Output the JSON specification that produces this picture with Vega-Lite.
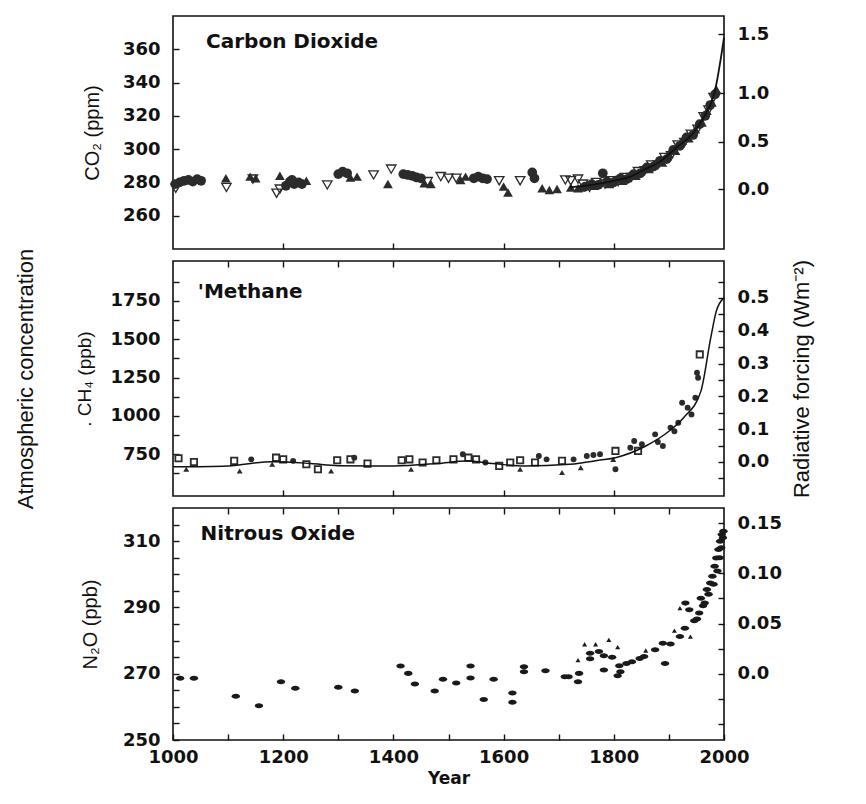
{
  "$schema": "https://vega.github.io/schema/vega-lite/v6.json",
  "background": "white",
  "padding": {"left": 13, "top": 15, "right": 10, "bottom": 10},
  "bounds": "flush",
  "spacing": 12,
  "config": {
    "view": {"stroke": "#111", "strokeWidth": 1.6},
    "axis": {
      "domain": false, "grid": false, "tickColor": "#111", "tickWidth": 1.4, "tickSize": -6,
      "labelFont": "DejaVu Sans", "labelFontWeight": "bold", "labelFontSize": 18, "labelColor": "#111",
      "labelFlush": false, "labelOverlap": false, "labelBound": false, "labelPadding": 19,
      "titleFont": "Liberation Sans", "titleFontWeight": "normal", "titleFontSize": 20, "titleColor": "#111"
    }
  },
  "datasets": {
    "co2": [
      {"year": 1004, "value": 279, "kind": "circle"}, {"year": 1012, "value": 280, "kind": "circle"}, {"year": 1020, "value": 281, "kind": "circle"}, {"year": 1028, "value": 281.5, "kind": "circle"}, {"year": 1036, "value": 280.5, "kind": "circle"}, {"year": 1044, "value": 282, "kind": "circle"}, {"year": 1051, "value": 281, "kind": "circle"},
      {"year": 1005, "value": 276.5, "kind": "open"},
      {"year": 1096, "value": 282.5, "kind": "tri"}, {"year": 1097, "value": 277, "kind": "open"},
      {"year": 1140, "value": 283.5, "kind": "tri"}, {"year": 1150, "value": 282.5, "kind": "tri"}, {"year": 1145, "value": 282, "kind": "open"},
      {"year": 1194, "value": 284, "kind": "tri"}, {"year": 1188, "value": 273.5, "kind": "open"}, {"year": 1194, "value": 276, "kind": "open"},
      {"year": 1205, "value": 278, "kind": "circle"}, {"year": 1212, "value": 280.5, "kind": "circle"}, {"year": 1220, "value": 279, "kind": "circle"}, {"year": 1228, "value": 280, "kind": "circle"}, {"year": 1216, "value": 281.5, "kind": "circle"}, {"year": 1234, "value": 279, "kind": "circle"},
      {"year": 1242, "value": 281, "kind": "tri"}, {"year": 1280, "value": 278.5, "kind": "open"},
      {"year": 1300, "value": 285, "kind": "circle"}, {"year": 1308, "value": 286.5, "kind": "circle"}, {"year": 1316, "value": 285.5, "kind": "circle"},
      {"year": 1322, "value": 283, "kind": "tri"}, {"year": 1334, "value": 283.5, "kind": "tri"},
      {"year": 1364, "value": 284.5, "kind": "open"}, {"year": 1396, "value": 288, "kind": "open"}, {"year": 1390, "value": 279, "kind": "tri"},
      {"year": 1418, "value": 285, "kind": "circle"}, {"year": 1426, "value": 284.5, "kind": "circle"}, {"year": 1434, "value": 284, "kind": "circle"}, {"year": 1442, "value": 283, "kind": "circle"}, {"year": 1450, "value": 282.5, "kind": "circle"},
      {"year": 1456, "value": 279.5, "kind": "tri"}, {"year": 1468, "value": 279, "kind": "tri"}, {"year": 1462, "value": 280.5, "kind": "open"},
      {"year": 1486, "value": 283.5, "kind": "open"}, {"year": 1500, "value": 282.5, "kind": "open"}, {"year": 1514, "value": 282.5, "kind": "open"},
      {"year": 1522, "value": 281.5, "kind": "tri"}, {"year": 1531, "value": 283.5, "kind": "tri"},
      {"year": 1546, "value": 282.5, "kind": "circle"}, {"year": 1554, "value": 283.5, "kind": "circle"}, {"year": 1562, "value": 282.5, "kind": "circle"}, {"year": 1570, "value": 282, "kind": "circle"},
      {"year": 1592, "value": 281, "kind": "open"}, {"year": 1600, "value": 277.5, "kind": "tri"}, {"year": 1608, "value": 274, "kind": "tri"},
      {"year": 1630, "value": 281, "kind": "open"}, {"year": 1652, "value": 286, "kind": "circle"}, {"year": 1656, "value": 282.5, "kind": "circle"},
      {"year": 1670, "value": 276.5, "kind": "tri"}, {"year": 1683, "value": 275.5, "kind": "tri"}, {"year": 1697, "value": 276, "kind": "tri"},
      {"year": 1712, "value": 281.5, "kind": "open"}, {"year": 1722, "value": 281, "kind": "open"}, {"year": 1735, "value": 282, "kind": "open"},
      {"year": 1722, "value": 277, "kind": "tri"}, {"year": 1735, "value": 276.5, "kind": "tri"},
      {"year": 1740, "value": 277, "kind": "tri"}, {"year": 1744, "value": 279, "kind": "open"}, {"year": 1748, "value": 277.5, "kind": "circle"}, {"year": 1752, "value": 278.5, "kind": "tri"}, {"year": 1756, "value": 277, "kind": "open"}, {"year": 1760, "value": 279, "kind": "circle"}, {"year": 1764, "value": 278, "kind": "tri"}, {"year": 1768, "value": 280, "kind": "open"}, {"year": 1772, "value": 278.5, "kind": "circle"}, {"year": 1776, "value": 280, "kind": "tri"},
      {"year": 1780, "value": 285.5, "kind": "circle"}, {"year": 1784, "value": 279, "kind": "open"}, {"year": 1788, "value": 280.5, "kind": "circle"}, {"year": 1792, "value": 279, "kind": "tri"}, {"year": 1796, "value": 281, "kind": "open"}, {"year": 1800, "value": 280, "kind": "circle"}, {"year": 1804, "value": 282, "kind": "tri"}, {"year": 1808, "value": 280.5, "kind": "open"}, {"year": 1812, "value": 282.5, "kind": "circle"}, {"year": 1816, "value": 281, "kind": "tri"},
      {"year": 1820, "value": 283, "kind": "open"}, {"year": 1824, "value": 282, "kind": "circle"}, {"year": 1828, "value": 284, "kind": "tri"}, {"year": 1832, "value": 283, "kind": "open"}, {"year": 1836, "value": 285, "kind": "circle"}, {"year": 1840, "value": 284, "kind": "tri"}, {"year": 1844, "value": 286.5, "kind": "open"}, {"year": 1848, "value": 285.5, "kind": "circle"}, {"year": 1852, "value": 288, "kind": "tri"}, {"year": 1856, "value": 287, "kind": "open"},
      {"year": 1860, "value": 289, "kind": "circle"}, {"year": 1864, "value": 288, "kind": "tri"}, {"year": 1868, "value": 290.5, "kind": "open"}, {"year": 1872, "value": 289.5, "kind": "circle"}, {"year": 1876, "value": 291.5, "kind": "tri"}, {"year": 1880, "value": 290.5, "kind": "open"}, {"year": 1884, "value": 293, "kind": "circle"}, {"year": 1888, "value": 292, "kind": "tri"}, {"year": 1892, "value": 295, "kind": "open"}, {"year": 1896, "value": 294, "kind": "circle"},
      {"year": 1900, "value": 297, "kind": "tri"}, {"year": 1904, "value": 296, "kind": "open"}, {"year": 1908, "value": 299.5, "kind": "circle"}, {"year": 1912, "value": 299, "kind": "tri"}, {"year": 1916, "value": 302.5, "kind": "open"}, {"year": 1920, "value": 302, "kind": "circle"}, {"year": 1924, "value": 305, "kind": "tri"}, {"year": 1928, "value": 304, "kind": "open"}, {"year": 1932, "value": 307, "kind": "circle"}, {"year": 1936, "value": 306.5, "kind": "tri"},
      {"year": 1940, "value": 309, "kind": "open"}, {"year": 1944, "value": 308.5, "kind": "circle"}, {"year": 1948, "value": 312, "kind": "tri"}, {"year": 1952, "value": 312, "kind": "open"}, {"year": 1956, "value": 315, "kind": "circle"}, {"year": 1960, "value": 316, "kind": "tri"}, {"year": 1963, "value": 319.5, "kind": "open"}, {"year": 1966, "value": 320, "kind": "circle"}, {"year": 1969, "value": 323, "kind": "tri"}, {"year": 1972, "value": 323.5, "kind": "open"},
      {"year": 1975, "value": 326.5, "kind": "circle"}, {"year": 1978, "value": 328, "kind": "tri"}, {"year": 1981, "value": 331, "kind": "open"}, {"year": 1984, "value": 333, "kind": "circle"}, {"year": 1986, "value": 336, "kind": "tri"}
    ],
    "co2fit": [
      {"year": 1720, "value": 277}, {"year": 1760, "value": 278.5}, {"year": 1800, "value": 281}, {"year": 1830, "value": 283.5}, {"year": 1854, "value": 287.5}, {"year": 1884, "value": 292.5}, {"year": 1914, "value": 301}, {"year": 1945, "value": 310}, {"year": 1963, "value": 319}, {"year": 1975, "value": 326.5}, {"year": 1982, "value": 333}, {"year": 2000, "value": 367}
    ],
    "ch4": [
      {"year": 1010, "value": 724, "kind": "sq"}, {"year": 1024, "value": 652, "kind": "tri"}, {"year": 1038, "value": 700, "kind": "sq"},
      {"year": 1111, "value": 707, "kind": "sq"}, {"year": 1121, "value": 641, "kind": "tri"}, {"year": 1142, "value": 717, "kind": "circle"},
      {"year": 1180, "value": 685, "kind": "tri"}, {"year": 1187, "value": 728, "kind": "sq"}, {"year": 1200, "value": 717, "kind": "sq"}, {"year": 1218, "value": 707, "kind": "circle"},
      {"year": 1242, "value": 685, "kind": "sq"}, {"year": 1263, "value": 652, "kind": "sq"}, {"year": 1287, "value": 641, "kind": "tri"}, {"year": 1298, "value": 711, "kind": "sq"},
      {"year": 1322, "value": 717, "kind": "sq"}, {"year": 1329, "value": 728, "kind": "circle"}, {"year": 1353, "value": 689, "kind": "sq"},
      {"year": 1415, "value": 711, "kind": "sq"}, {"year": 1432, "value": 652, "kind": "tri"}, {"year": 1429, "value": 717, "kind": "sq"}, {"year": 1453, "value": 696, "kind": "sq"}, {"year": 1478, "value": 711, "kind": "sq"},
      {"year": 1509, "value": 717, "kind": "sq"}, {"year": 1526, "value": 750, "kind": "circle"}, {"year": 1536, "value": 728, "kind": "sq"}, {"year": 1550, "value": 717, "kind": "sq"}, {"year": 1567, "value": 696, "kind": "circle"},
      {"year": 1592, "value": 674, "kind": "sq"}, {"year": 1612, "value": 696, "kind": "sq"}, {"year": 1630, "value": 711, "kind": "sq"}, {"year": 1630, "value": 652, "kind": "tri"},
      {"year": 1657, "value": 696, "kind": "sq"}, {"year": 1664, "value": 739, "kind": "circle"}, {"year": 1678, "value": 717, "kind": "circle"},
      {"year": 1706, "value": 707, "kind": "sq"}, {"year": 1706, "value": 631, "kind": "tri"}, {"year": 1727, "value": 717, "kind": "circle"}, {"year": 1740, "value": 663, "kind": "tri"}, {"year": 1751, "value": 739, "kind": "circle"}, {"year": 1763, "value": 745, "kind": "circle"}, {"year": 1775, "value": 750, "kind": "circle"},
      {"year": 1803, "value": 772, "kind": "sq"}, {"year": 1799, "value": 717, "kind": "tri"}, {"year": 1803, "value": 652, "kind": "circle"},
      {"year": 1830, "value": 793, "kind": "circle"}, {"year": 1837, "value": 837, "kind": "circle"}, {"year": 1844, "value": 772, "kind": "sq"}, {"year": 1851, "value": 815, "kind": "cross"},
      {"year": 1875, "value": 880, "kind": "circle"}, {"year": 1889, "value": 804, "kind": "circle"}, {"year": 1880, "value": 830, "kind": "cross"},
      {"year": 1903, "value": 924, "kind": "circle"}, {"year": 1917, "value": 956, "kind": "circle"}, {"year": 1910, "value": 900, "kind": "cross"},
      {"year": 1924, "value": 1086, "kind": "circle"}, {"year": 1934, "value": 1054, "kind": "circle"}, {"year": 1941, "value": 1010, "kind": "circle"}, {"year": 1948, "value": 1119, "kind": "circle"},
      {"year": 1951, "value": 1282, "kind": "circle"}, {"year": 1953, "value": 1249, "kind": "circle"}, {"year": 1956, "value": 1401, "kind": "sq"}
    ],
    "ch4fit": [
      {"year": 1000, "value": 668}, {"year": 1100, "value": 674}, {"year": 1180, "value": 702}, {"year": 1250, "value": 690}, {"year": 1300, "value": 676}, {"year": 1400, "value": 674}, {"year": 1480, "value": 690}, {"year": 1533, "value": 706}, {"year": 1580, "value": 690}, {"year": 1637, "value": 674}, {"year": 1720, "value": 685}, {"year": 1775, "value": 712}, {"year": 1803, "value": 728}, {"year": 1858, "value": 804}, {"year": 1900, "value": 900}, {"year": 1927, "value": 990}, {"year": 1958, "value": 1160}, {"year": 1976, "value": 1510}, {"year": 1986, "value": 1683}, {"year": 2000, "value": 1770}
    ],
    "n2o": [
      {"year": 1013, "value": 268.6, "kind": "e"}, {"year": 1038, "value": 268.6, "kind": "e"}, {"year": 1114, "value": 263.2, "kind": "e"}, {"year": 1156, "value": 260.3, "kind": "e"}, {"year": 1196, "value": 267.6, "kind": "e"}, {"year": 1222, "value": 265.6, "kind": "e"}, {"year": 1300, "value": 265.9, "kind": "e"}, {"year": 1330, "value": 264.8, "kind": "e"},
      {"year": 1413, "value": 272.3, "kind": "e"}, {"year": 1427, "value": 270.1, "kind": "e"}, {"year": 1439, "value": 266.9, "kind": "e"}, {"year": 1475, "value": 264.8, "kind": "e"}, {"year": 1490, "value": 268.3, "kind": "e"}, {"year": 1514, "value": 267.2, "kind": "e"}, {"year": 1540, "value": 272.3, "kind": "e"}, {"year": 1540, "value": 268.7, "kind": "e"},
      {"year": 1564, "value": 262.2, "kind": "e"}, {"year": 1582, "value": 268.3, "kind": "e"}, {"year": 1616, "value": 264.2, "kind": "e"}, {"year": 1616, "value": 261.4, "kind": "e"}, {"year": 1637, "value": 272.1, "kind": "e"}, {"year": 1637, "value": 270.6, "kind": "e"}, {"year": 1676, "value": 270.9, "kind": "e"}, {"year": 1711, "value": 269.1, "kind": "e"}, {"year": 1718, "value": 269.1, "kind": "e"},
      {"year": 1735, "value": 274.1, "kind": "tri"}, {"year": 1737, "value": 270.1, "kind": "e"}, {"year": 1735, "value": 267.6, "kind": "e"}, {"year": 1747, "value": 278.9, "kind": "tri"}, {"year": 1757, "value": 276.2, "kind": "e"}, {"year": 1757, "value": 274.5, "kind": "e"}, {"year": 1767, "value": 278.9, "kind": "tri"}, {"year": 1773, "value": 276.7, "kind": "e"}, {"year": 1782, "value": 271.1, "kind": "e"}, {"year": 1782, "value": 275.4, "kind": "e"},
      {"year": 1791, "value": 280.2, "kind": "tri"}, {"year": 1797, "value": 275.0, "kind": "e"}, {"year": 1807, "value": 278.0, "kind": "tri"}, {"year": 1807, "value": 269.4, "kind": "e"}, {"year": 1812, "value": 270.6, "kind": "e"}, {"year": 1810, "value": 272.4, "kind": "e"}, {"year": 1823, "value": 273.1, "kind": "e"}, {"year": 1833, "value": 273.6, "kind": "e"}, {"year": 1847, "value": 274.6, "kind": "e"},
      {"year": 1858, "value": 277.0, "kind": "tri"}, {"year": 1855, "value": 275.2, "kind": "e"}, {"year": 1875, "value": 277.2, "kind": "e"}, {"year": 1889, "value": 279.2, "kind": "e"}, {"year": 1893, "value": 273.1, "kind": "e"}, {"year": 1903, "value": 279.0, "kind": "e"}, {"year": 1910, "value": 283.0, "kind": "tri"}, {"year": 1920, "value": 281.2, "kind": "e"}, {"year": 1929, "value": 283.7, "kind": "e"},
      {"year": 1920, "value": 289.8, "kind": "tri"}, {"year": 1930, "value": 291.3, "kind": "e"}, {"year": 1937, "value": 289.3, "kind": "e"}, {"year": 1939, "value": 281.2, "kind": "tri"}, {"year": 1946, "value": 286, "kind": "e"}, {"year": 1951, "value": 286.5, "kind": "e"}, {"year": 1955, "value": 288.3, "kind": "e"}, {"year": 1958, "value": 292.8, "kind": "e"}, {"year": 1962, "value": 290.5, "kind": "e"},
      {"year": 1965, "value": 291.3, "kind": "e"}, {"year": 1969, "value": 295.4, "kind": "e"}, {"year": 1972, "value": 294, "kind": "e"}, {"year": 1975, "value": 297.4, "kind": "e"}, {"year": 1979, "value": 299.4, "kind": "e"}, {"year": 1981, "value": 297, "kind": "e"}, {"year": 1983, "value": 302.4, "kind": "e"}, {"year": 1986, "value": 304.9, "kind": "e"}, {"year": 1988, "value": 301, "kind": "e"},
      {"year": 1990, "value": 307.5, "kind": "e"}, {"year": 1992, "value": 305, "kind": "e"}, {"year": 1993, "value": 310.0, "kind": "e"}, {"year": 1995, "value": 308, "kind": "e"}, {"year": 1996, "value": 312.0, "kind": "e"}, {"year": 1998, "value": 311, "kind": "e"}, {"year": 1999, "value": 313, "kind": "e"}
    ]
  },
  "vconcat": [
    {
      "width": 551, "height": 233,
      "layer": [
        {
          "data": {"name": "co2"},
          "transform": [{"filter": "datum.kind != 'open'"}],
          "mark": {"type": "point", "filled": true, "opacity": 1, "color": "#2b2b2b", "size": 95},
          "encoding": {
            "x": {"field": "year", "type": "quantitative", "scale": {"domain": [1000, 2000], "nice": false, "zero": false}, "axis": {"orient": "bottom", "labels": false, "values": [1200, 1400, 1600, 1800], "title": null}},
            "y": {"field": "value", "type": "quantitative", "scale": {"domain": [240, 380], "nice": false, "zero": false}, "axis": {"orient": "left", "values": [260, 280, 300, 320, 340, 360], "title": "CO₂ (ppm)", "titlePadding": 20}},
            "shape": {"field": "kind", "type": "nominal", "scale": {"domain": ["circle", "tri"], "range": ["circle", "triangle-up"]}, "legend": null}
          }
        },
        {
          "data": {"name": "co2"},
          "transform": [{"filter": "datum.kind == 'open'"}],
          "mark": {"type": "point", "filled": false, "shape": "triangle-down", "opacity": 1, "color": "#2b2b2b", "size": 90, "strokeWidth": 1.3},
          "encoding": {
            "x": {"field": "year", "type": "quantitative", "scale": {"domain": [1000, 2000], "nice": false, "zero": false}, "axis": null},
            "y": {"field": "value", "type": "quantitative", "scale": {"domain": [240, 380], "nice": false, "zero": false}, "axis": null}
          }
        },
        {
          "data": {"name": "co2fit"},
          "mark": {"type": "line", "color": "#111", "strokeWidth": 1.8, "interpolate": "monotone"},
          "encoding": {
            "x": {"field": "year", "type": "quantitative", "scale": {"domain": [1000, 2000], "nice": false, "zero": false}, "axis": null},
            "y": {"field": "value", "type": "quantitative", "scale": {"domain": [240, 380], "nice": false, "zero": false}, "axis": {"orient": "right", "values": [276, 304.5, 333.5, 369], "labelExpr": "datum.value < 290 ? '0.0' : datum.value < 320 ? '0.5' : datum.value < 350 ? '1.0' : '1.5'", "title": null}}
          }
        },
        {
          "data": {"values": [{}]},
          "mark": {"type": "text", "text": "Carbon Dioxide", "align": "left", "baseline": "alphabetic", "font": "DejaVu Sans", "fontWeight": "bold", "fontSize": 20, "color": "#111"},
          "encoding": {
            "x": {"datum": 1060, "type": "quantitative", "scale": {"domain": [1000, 2000], "nice": false, "zero": false}, "axis": null},
            "y": {"datum": 361, "type": "quantitative", "scale": {"domain": [240, 380], "nice": false, "zero": false}, "axis": null}
          }
        }
      ],
      "resolve": {"axis": {"x": "independent", "y": "independent"}}
    },
    {
      "width": 551, "height": 235,
      "layer": [
        {
          "data": {"name": "ch4"},
          "transform": [{"filter": "datum.kind == 'sq'"}],
          "mark": {"type": "point", "filled": false, "shape": "square", "opacity": 1, "color": "#2b2b2b", "size": 40, "strokeWidth": 1.8},
          "encoding": {
            "x": {"field": "year", "type": "quantitative", "scale": {"domain": [1000, 2000], "nice": false, "zero": false}, "axis": {"orient": "top", "labels": false, "values": [1100, 1200, 1300, 1400, 1500, 1600, 1700, 1800, 1900], "title": null}},
            "y": {"field": "value", "type": "quantitative", "scale": {"domain": [478, 2010], "nice": false, "zero": false}, "axis": {"orient": "left", "values": [625, 750, 875, 1000, 1125, 1250, 1375, 1500, 1625, 1750, 1875], "format": "d", "labelExpr": "datum.value % 250 == 0 ? datum.label : ''", "title": ". CH₄ (ppb)", "titleFontSize": 19, "titlePadding": 15}}
          }
        },
        {
          "data": {"name": "ch4"},
          "transform": [{"filter": "datum.kind != 'sq'"}],
          "mark": {"type": "point", "filled": true, "opacity": 1, "color": "#2b2b2b", "size": 35},
          "encoding": {
            "x": {"field": "year", "type": "quantitative", "scale": {"domain": [1000, 2000], "nice": false, "zero": false}, "axis": {"orient": "bottom", "labels": false, "values": [1200, 1400, 1600, 1800], "title": null}},
            "y": {"field": "value", "type": "quantitative", "scale": {"domain": [478, 2010], "nice": false, "zero": false}, "axis": null},
            "shape": {"field": "kind", "type": "nominal", "scale": {"domain": ["circle", "tri", "cross"], "range": ["circle", "triangle-up", "cross"]}, "legend": null}
          }
        },
        {
          "data": {"name": "ch4fit"},
          "mark": {"type": "line", "color": "#111", "strokeWidth": 1.5, "interpolate": "monotone"},
          "encoding": {
            "x": {"field": "year", "type": "quantitative", "scale": {"domain": [1000, 2000], "nice": false, "zero": false}, "axis": null},
            "y": {"field": "value", "type": "quantitative", "scale": {"domain": [478, 2010], "nice": false, "zero": false}, "axis": {"orient": "right", "values": [593.1, 700, 806.9, 913.8, 1020.7, 1127.6, 1234.5, 1341.4, 1448.3, 1555.2, 1662.1, 1769, 1875.9], "labelExpr": "(round((datum.value - 700) / 106.9) % 2 == 0 && datum.value >= 699) ? format((datum.value - 700) / 2138, '.1f') : ''", "title": "Radiative forcing  (Wm⁻²)", "titleFontSize": 22, "titleAngle": 270, "titleBaseline": "top", "titlePadding": 23}}
          }
        },
        {
          "data": {"values": [{}]},
          "mark": {"type": "text", "text": "'Methane", "align": "left", "baseline": "alphabetic", "font": "DejaVu Sans", "fontWeight": "bold", "fontSize": 20, "color": "#111"},
          "encoding": {
            "x": {"datum": 1045, "type": "quantitative", "scale": {"domain": [1000, 2000], "nice": false, "zero": false}, "axis": null},
            "y": {"datum": 1769, "type": "quantitative", "scale": {"domain": [478, 2010], "nice": false, "zero": false}, "axis": {"orient": "left", "labels": false, "ticks": false, "title": "Atmospheric concentration", "titleFontSize": 22, "titlePadding": 136}}
          }
        }
      ],
      "resolve": {"axis": {"x": "independent", "y": "independent"}}
    },
    {
      "width": 551, "height": 232,
      "layer": [
        {
          "data": {"name": "n2o"},
          "transform": [{"filter": "datum.kind == 'e'"}],
          "mark": {"type": "point", "filled": true, "opacity": 1, "color": "#1a1a1a", "size": 70, "shape": "M-1,0A1,0.6,0,1,0,1,0A1,0.6,0,1,0,-1,0Z"},
          "encoding": {
            "x": {"field": "year", "type": "quantitative", "scale": {"domain": [1000, 2000], "nice": false, "zero": false}, "axis": {"orient": "bottom", "values": [1000, 1100, 1200, 1300, 1400, 1500, 1600, 1700, 1800, 1900, 2000], "format": "d", "labelExpr": "datum.value % 200 == 0 ? datum.label : ''", "labelPadding": 14, "title": "Year", "titleFont": "DejaVu Sans", "titleFontWeight": "bold", "titleFontSize": 17, "titlePadding": 4}},
            "y": {"field": "value", "type": "quantitative", "scale": {"domain": [250, 320], "nice": false, "zero": false}, "axis": {"orient": "left", "values": [250, 255, 260, 265, 270, 275, 280, 285, 290, 295, 300, 305, 310, 315], "labelExpr": "(datum.value - 250) % 20 == 0 ? datum.label : ''", "title": "N₂O (ppb)", "titlePadding": 22}}
          }
        },
        {
          "data": {"name": "n2o"},
          "transform": [{"filter": "datum.kind == 'tri'"}],
          "mark": {"type": "point", "filled": true, "opacity": 1, "color": "#1a1a1a", "size": 25, "shape": "triangle-up"},
          "encoding": {
            "x": {"field": "year", "type": "quantitative", "scale": {"domain": [1000, 2000], "nice": false, "zero": false}, "axis": {"orient": "top", "labels": false, "values": [1100, 1200, 1300, 1400, 1500, 1600, 1700, 1800, 1900], "title": null}},
            "y": {"field": "value", "type": "quantitative", "scale": {"domain": [250, 320], "nice": false, "zero": false}, "axis": {"orient": "right", "values": [254.85, 262.43, 270, 277.58, 285.15, 292.73, 300.3, 307.88, 315.45], "labelExpr": "(round((datum.value - 270) / 7.575) % 2 == 0 && datum.value >= 269) ? (abs(datum.value - 270) < 1 ? '0.0' : format((datum.value - 270) / 303, '.2f')) : ''", "title": null}}
          }
        },
        {
          "data": {"values": [{}]},
          "mark": {"type": "text", "text": "Nitrous Oxide", "align": "left", "baseline": "alphabetic", "font": "DejaVu Sans", "fontWeight": "bold", "fontSize": 20, "color": "#111"},
          "encoding": {
            "x": {"datum": 1050, "type": "quantitative", "scale": {"domain": [1000, 2000], "nice": false, "zero": false}, "axis": null},
            "y": {"datum": 310.3, "type": "quantitative", "scale": {"domain": [250, 320], "nice": false, "zero": false}, "axis": null}
          }
        }
      ],
      "resolve": {"axis": {"x": "independent", "y": "independent"}}
    }
  ]
}
